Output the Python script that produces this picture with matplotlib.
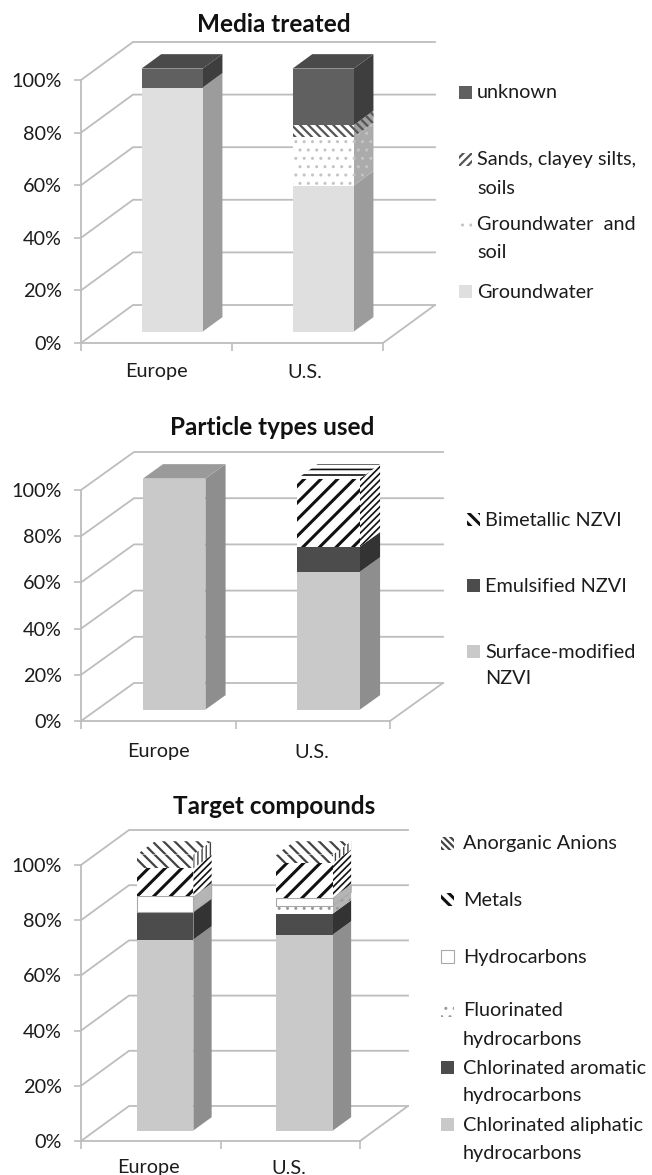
import matplotlib
matplotlib.use("Agg")
import matplotlib.pyplot as plt
from matplotlib.patches import Polygon, Rectangle

W, H = 652, 1175
plt.rcParams['font.family'] = ['Lato', 'DejaVu Sans']

categories = ["Europe", "U.S."]
pct_ticks = [0, 20, 40, 60, 80, 100]
pct_labels = ["0%", "20%", "40%", "60%", "80%", "100%"]

# shares of each stack, bottom to top
media_names = ["Groundwater", "Groundwater  and\nsoil", "Sands, clayey silts,\nsoils", "unknown"]
media_europe = [92.8, 0, 0, 7.2]
media_us = [55.5, 18.5, 4.5, 21.5]

particle_names = ["Surface-modified\nNZVI", "Emulsified NZVI", "Bimetallic NZVI"]
particle_europe = [100, 0, 0]
particle_us = [59.7, 10.9, 29.4]

target_names = ["Chlorinated aliphatic\nhydrocarbons", "Chlorinated aromatic\nhydrocarbons",
                "Fluorinated\nhydrocarbons", "Hydrocarbons", "Metals", "Anorganic Anions"]
target_europe = [69.2, 10.1, 0, 5.5, 10.2, 5.0]
target_us = [71.0, 7.6, 2.9, 2.9, 12.6, 3.0]

# face, side, top colours plus optional hatch settings per surface
SOLID_LIGHT = dict(face='#dfdfdf', side='#9c9c9c', top='#9c9c9c')
SOLID_MID = dict(face='#c9c9c9', side='#8e8e8e', top='#9a9a9a')
SOLID_DARK = dict(face='#606060', side='#3e3e3e', top='#4a4a4a')
DARK2 = dict(face='#4c4c4c', side='#333333', top='#3a3a3a')
DOTS = dict(face='#ffffff', side='#ababab', top='#ababab', hatch='..', hc='#c4c4c4', hw=1.0)
FINE = dict(face='#ffffff', side='#a0a0a0', top='#a0a0a0', hatch='\\\\\\\\', hc='#555555', hw=1.6,
            icon='////')
STRIPE = dict(face='#ffffff', side='#ffffff', top='#ffffff', hatch='//', hc='#111111', hw=2.2,
              side_hatch='/////', side_hw=1.2, top_hatch='---', top_hw=1.2, icon='\\\\\\')
WHITE = dict(face='#ffffff', side='#b5b5b5', top='#b5b5b5', hc='#a8a8a8', edge=0.8)
DOTS2 = dict(face='#ffffff', side='#b5b5b5', top='#b5b5b5', hatch='..', hc='#999999', hw=1.0)
DENSE = dict(face='#ffffff', side='#ffffff', top='#ffffff', hatch='\\\\\\', hc='#444444', hw=1.6,
             side_hatch='||||', side_hw=1.0, icon='\\\\\\\\\\')
GRID = '#bdbdbd'
TXT = '#1c1c1c'


def fig_xy(x, y):
    return x / W, 1 - y / H


def make_patch(pts, st, key, **kw):
    p = Polygon(pts, closed=True, facecolor=st[key], edgecolor=st.get('hc', 'none'),
                lw=st.get('edge', 0), hatch=st.get(key + '_hatch', st.get('hatch')), **kw)
    if 'hw' in st:
        p.set_hatch_linewidth(st.get(key + '_hw', st['hw']))
    return p


def draw_panel(fig, box, back, title, title_xy, stacks, styles, label_x, label_y):
    left, right, top, bottom = box
    ax = fig.add_axes([left / W, 1 - bottom / H, (right - left) / W, (bottom - top) / H])
    ax.set_xlim(0, 2)
    ax.set_ylim(0, 100)
    ax.patch.set_alpha(0)

    # oblique depth of the chart floor, in data units
    dx = back[0] * 2 / (right - left)
    dy = back[1] * 100 / (bottom - top)

    for s in ['top', 'right']:
        ax.spines[s].set_visible(False)
    for s in ['left', 'bottom']:
        ax.spines[s].set_color(GRID)
        ax.spines[s].set_linewidth(1.3)
    ax.set_yticks(pct_ticks)
    ax.set_yticklabels(pct_labels, fontsize=14.3, color=TXT)
    ax.tick_params(axis='y', length=5, width=1.2, color=GRID, pad=9)
    ax.set_xticks([0, 1, 2])
    ax.set_xticklabels([])
    ax.tick_params(axis='x', length=6, width=1.2, color=GRID)

    for v in pct_ticks:
        ax.plot([0, dx, 2 + dx], [v, v + dy, v + dy], color=GRID, lw=1.3, clip_on=False,
                zorder=1, solid_joinstyle='miter')
    ax.plot([2, 2 + dx], [0, dy], color=GRID, lw=1.3, clip_on=False, zorder=1)

    # bars sit between 30% and 68% of the floor depth
    d0, d1 = 0.30, 0.68
    bar_w = 0.405
    for i, shares in enumerate(stacks):
        x0 = i + 0.5 - bar_w / 2 + d0 * dx
        x1 = x0 + bar_w
        sx = (d1 - d0) * dx
        sy = (d1 - d0) * dy
        base = d0 * dy
        level = 0
        last = None
        for share, st in zip(shares, styles):
            if share == 0:
                continue
            lo = base + level
            hi = lo + share
            ax.add_patch(make_patch([(x0, lo), (x1, lo), (x1, hi), (x0, hi)], st, 'face',
                                    clip_on=False, zorder=4))
            ax.add_patch(make_patch([(x1, lo), (x1 + sx, lo + sy), (x1 + sx, hi + sy), (x1, hi)], st, 'side',
                                    clip_on=False, zorder=3))
            level += share
            last = st
        hi = base + level
        ax.add_patch(make_patch([(x0, hi), (x1, hi), (x1 + sx, hi + sy), (x0 + sx, hi + sy)], last, 'top',
                                clip_on=False, zorder=3))

    x, y = fig_xy(*title_xy)
    fig.text(x, y, title, ha='center', va='center', fontsize=17.5, fontweight='bold', color='#111111')
    for name, cx in zip(categories, label_x):
        x, y = fig_xy(cx, label_y)
        fig.text(x, y, name, ha='center', va='center', fontsize=14.3, color=TXT)


def draw_legend(fig, names, styles, ys, icon_x, text_x, line_gap):
    for name, st, yc in zip(names, styles, ys):
        x, y = fig_xy(icon_x, yc + 6)
        r = Rectangle((x, y), 13 / W, 13 / H, transform=fig.transFigure, facecolor=st['face'],
                      edgecolor=st.get('hc', 'none'), lw=st.get('edge', 0),
                      hatch=st.get('icon', st.get('hatch')))
        if 'hw' in st:
            r.set_hatch_linewidth(st['hw'])
        fig.add_artist(r)
        for k, line in enumerate(name.split("\n")):
            x, y = fig_xy(text_x, yc + k * line_gap)
            fig.text(x, y, line, ha='left', va='center', fontsize=14.3, color=TXT)


fig = plt.figure(figsize=(W / 100, H / 100), dpi=100, facecolor='white')

media_styles = [SOLID_LIGHT, DOTS, FINE, SOLID_DARK]
draw_panel(fig, (81, 383, 80, 343), (52, 38), "Media treated", (274, 24),
           [media_europe, media_us], media_styles, (156, 305), 372)
draw_legend(fig, media_names, media_styles, [292, 225, 160, 93], 459, 477, 28)

particle_styles = [SOLID_MID, DARK2, STRIPE]
draw_panel(fig, (81, 390, 490, 721), (53, 38), "Particle types used", (272, 427),
           [particle_europe, particle_us], particle_styles, (158, 312), 752)
draw_legend(fig, particle_names, particle_styles, [652, 586, 520], 467, 485, 27)

target_styles = [SOLID_MID, DARK2, DOTS2, WHITE, STRIPE, DENSE]
draw_panel(fig, (81, 360, 865, 1141), (48, 35), "Target compounds", (274, 806),
           [target_europe, target_us], target_styles, (148, 289), 1168)
draw_legend(fig, target_names, target_styles, [1125, 1068, 1011, 957, 900, 844], 441, 463, 28)

fig.savefig("out.png", dpi=100)
plt.close(fig)
